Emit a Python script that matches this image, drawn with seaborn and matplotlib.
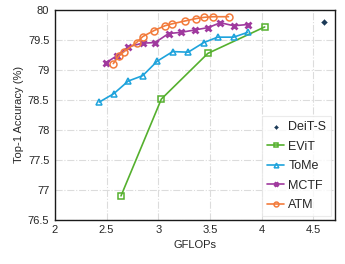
import numpy as np
import pandas as pd
import matplotlib
matplotlib.use("Agg")
import matplotlib.pyplot as plt
import seaborn as sns

# values
deit_x = [4.6]
deit_y = [79.8]

evit_x = [2.64, 3.03, 3.48, 4.03]
evit_y = [76.9, 78.51, 79.27, 79.71]

tome_x = [2.43, 2.57, 2.71, 2.85, 2.99, 3.14, 3.29, 3.44, 3.575, 3.73, 3.865]
tome_y = [78.46, 78.6, 78.81, 78.9, 79.14, 79.3, 79.29, 79.45, 79.54, 79.54, 79.62]

mctf_x = [2.49, 2.6, 2.71, 2.85, 2.97, 3.1, 3.22, 3.355, 3.485, 3.6, 3.73, 3.865]
mctf_y = [79.11, 79.23, 79.38, 79.44, 79.45, 79.6, 79.62, 79.66, 79.7, 79.78, 79.73, 79.75]

atm_x = [2.565, 2.62, 2.67, 2.79, 2.85, 2.96, 3.065, 3.13, 3.26, 3.37, 3.445, 3.53, 3.68]
atm_y = [79.1, 79.23, 79.3, 79.45, 79.55, 79.65, 79.73, 79.76, 79.81, 79.85, 79.87, 79.88, 79.88]

x_ticks = [2, 2.5, 3, 3.5, 4, 4.5]
y_ticks = [76.5, 77, 77.5, 78, 78.5, 79, 79.5, 80]

sns.set_style("white")
plt.rcParams['font.family'] = ['Liberation Sans', 'DejaVu Sans']

fig = plt.figure(figsize=(3.45, 2.64), dpi=100)
ax = fig.add_axes([0.159, 0.167, 0.812, 0.797])

sns.scatterplot(x=deit_x, y=deit_y, ax=ax, marker='D', s=9, color='#1b3a57',
                edgecolor='#1b3a57', label='DeiT-S', zorder=5)

series = [
    ('EViT', evit_x, evit_y, '#55b02e', 's', 4.8, 1.1),
    ('ToMe', tome_x, tome_y, '#1ea3dc', '^', 4.8, 1.1),
    ('MCTF', mctf_x, mctf_y, '#a03a9e', 'x', 4.2, 2.0),
    ('ATM', atm_x, atm_y, '#f27b3c', 'o', 5, 1.1),
]
for name, xs, ys, col, mk, ms, mew in series:
    df = pd.DataFrame({'x': xs, 'y': ys})
    sns.lineplot(data=df, x='x', y='y', ax=ax, color=col, marker=mk, markersize=ms,
                 markerfacecolor='none', markeredgecolor=col, markeredgewidth=mew,
                 linewidth=1.2, label=name, sort=False)

ax.set_xlim(2, 4.71)
ax.set_ylim(76.5, 80)
ax.set_xticks(x_ticks)
ax.set_xticklabels(['2', '2.5', '3', '3.5', '4', '4.5'])
ax.set_yticks(y_ticks)
ax.set_yticklabels(['76.5', '77', '77.5', '78', '78.5', '79', '79.5', '80'])
ax.tick_params(labelsize=8, length=0, pad=4)
ax.grid(True, linestyle='-.', color='#dcdcdc', linewidth=0.8)
ax.set_axisbelow(True)
for s in ax.spines.values():
    s.set_visible(True)
    s.set_color('#1a1a1a')
    s.set_linewidth(1.0)

ax.set_xlabel('GFLOPs', fontsize=8, labelpad=3)
ax.set_ylabel('Top-1 Accuracy (%)', fontsize=8, labelpad=3)

leg = ax.legend(loc='lower right', fontsize=9, frameon=True, fancybox=False,
                markerscale=0.7, handlelength=1.4, handletextpad=0.3,
                labelspacing=0.6, borderpad=0.4, borderaxespad=0.3)
leg.get_frame().set_edgecolor('#e6e6e6')
leg.get_frame().set_linewidth(0.8)

fig.savefig('out.png', dpi=100)
